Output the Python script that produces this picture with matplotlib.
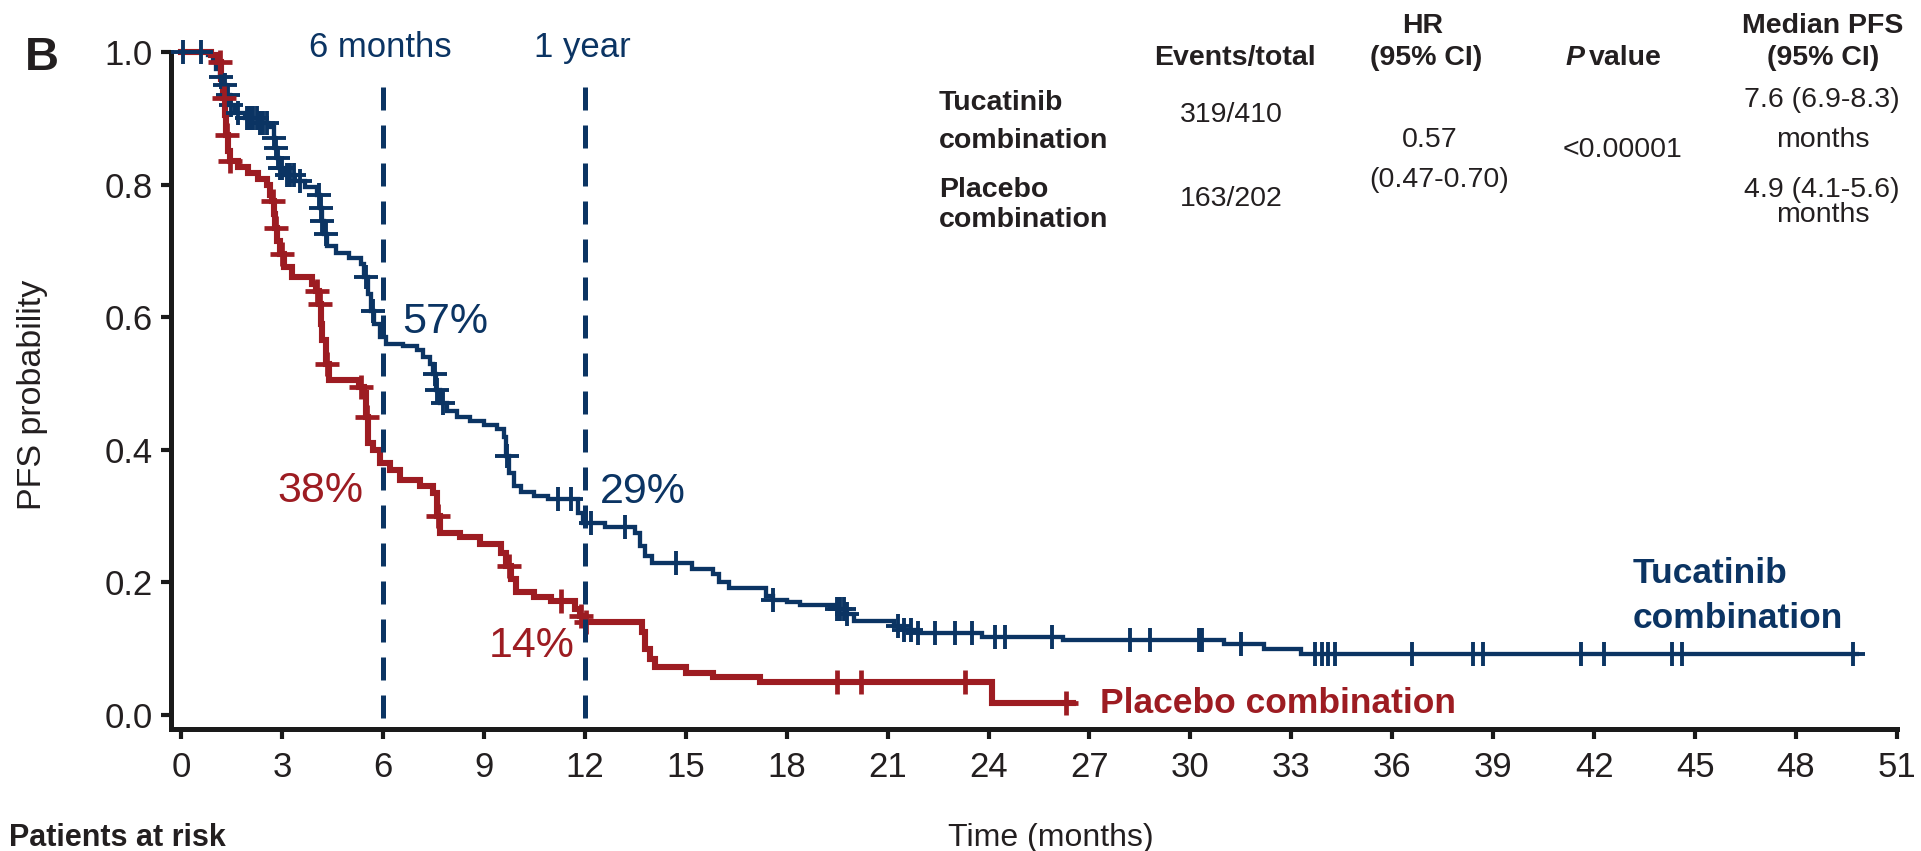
import numpy as np
import matplotlib
matplotlib.use("Agg")
import matplotlib.pyplot as plt

plt.rcParams['font.family'] = ['Liberation Sans', 'DejaVu Sans']

# ---- data -------------------------------------------------------------
month_ticks = list(range(0, 52, 3))
prob_ticks = [0.0, 0.2, 0.4, 0.6, 0.8, 1.0]

# Tucatinib combination: Kaplan-Meier step times (months) and survival after each step
tuc_time = [0, 0.8, 0.95, 1.05, 1.15, 1.25, 1.35, 1.45, 1.6, 1.9,
            2.3, 2.6, 2.75, 2.8, 2.85, 2.9, 3.1, 3.4, 3.7, 4.05,
            4.12, 4.18, 4.25, 4.35, 4.6, 5.0, 5.35, 5.45, 5.55, 5.65,
            5.75, 5.9, 6.1, 6.6, 7.0, 7.2, 7.4, 7.5, 7.58, 7.7,
            7.9, 8.2, 8.6, 9.0, 9.4, 9.6, 9.65, 9.75, 9.9, 10.1,
            10.5, 10.9, 11.8, 11.95, 12.6, 13.5, 13.65, 13.8, 14.0, 15.2,
            15.8, 16.0, 16.3, 17.4, 17.6, 18.0, 18.4, 19.5, 19.8, 20.0,
            21.2, 21.5, 21.9, 23.8, 26.2, 31.0, 32.2, 33.3]
tuc_surv = [1.0, 0.995, 0.985, 0.975, 0.962, 0.950, 0.935, 0.920, 0.908, 0.900,
            0.893, 0.887, 0.870, 0.855, 0.840, 0.825, 0.815, 0.805, 0.797, 0.785,
            0.765, 0.745, 0.725, 0.708, 0.697, 0.690, 0.680, 0.660, 0.635, 0.610,
            0.590, 0.570, 0.560, 0.557, 0.550, 0.540, 0.530, 0.515, 0.490, 0.470,
            0.458, 0.450, 0.444, 0.437, 0.432, 0.420, 0.390, 0.365, 0.345, 0.337,
            0.330, 0.326, 0.305, 0.290, 0.283, 0.275, 0.255, 0.240, 0.230, 0.220,
            0.212, 0.200, 0.192, 0.180, 0.174, 0.170, 0.166, 0.160, 0.152, 0.142,
            0.135, 0.128, 0.124, 0.118, 0.113, 0.107, 0.099, 0.092]
tuc_end = 49.8
tuc_censor = [0.06, 0.6, 1.2, 1.3, 1.4, 1.5, 1.7, 1.95, 2.05, 2.15,
              2.25, 2.35, 2.45, 2.55, 2.77, 2.82, 2.87, 2.95, 3.0, 3.15,
              3.25, 3.35, 3.55, 4.1, 4.15, 4.2, 4.3, 5.5, 5.7, 7.55,
              7.62, 7.8, 9.7, 11.2, 11.6, 12.2, 13.2, 14.7, 17.6, 19.5,
              19.6, 19.7, 19.8, 21.3, 21.5, 21.7, 21.9, 22.4, 23.0, 23.5,
              24.2, 24.5, 25.9, 28.2, 28.8, 30.25, 30.35, 31.5, 33.7, 33.9,
              34.1, 34.3, 36.6, 38.4, 38.7, 41.6, 42.3, 44.3, 44.6, 49.7]

# Placebo combination
pla_time = [0, 0.9, 1.1, 1.2, 1.25, 1.3, 1.35, 1.4, 1.45, 1.7,
            2.0, 2.3, 2.55, 2.65, 2.7, 2.75, 2.8, 2.85, 2.95, 3.05,
            3.3, 3.9, 4.0, 4.1, 4.15, 4.2, 4.3, 4.4, 5.3, 5.45,
            5.5, 5.55, 5.7, 5.9, 6.2, 6.5, 7.1, 7.5, 7.6, 7.7,
            8.3, 8.9, 9.5, 9.65, 9.8, 9.95, 10.5, 11.0, 11.7, 11.85,
            12.0, 13.7, 13.8, 13.95, 14.1, 15.0, 15.8, 17.2, 24.1]
pla_surv = [1.0, 0.995, 0.985, 0.960, 0.930, 0.905, 0.875, 0.850, 0.835, 0.827,
            0.818, 0.808, 0.800, 0.785, 0.775, 0.755, 0.735, 0.715, 0.695, 0.675,
            0.660, 0.650, 0.640, 0.620, 0.590, 0.565, 0.530, 0.505, 0.495, 0.485,
            0.450, 0.410, 0.400, 0.380, 0.370, 0.355, 0.345, 0.335, 0.300, 0.275,
            0.268, 0.258, 0.245, 0.225, 0.205, 0.185, 0.178, 0.172, 0.160, 0.150,
            0.140, 0.125, 0.100, 0.085, 0.073, 0.064, 0.057, 0.050, 0.018]
pla_end = 26.5
pla_censor = [1.15, 1.28, 1.38, 1.47, 2.72, 2.82, 3.0, 4.05, 4.12, 4.35,
              5.35, 5.52, 7.65, 9.75, 11.3, 11.9, 12.05, 19.5, 20.2, 23.3,
              26.3]

landmarks = [6, 12]
landmark_names = ["6 months", "1 year"]

table_header_top = ["HR", "Median PFS"]
table_header = ["Events/total", "(95% CI)", "value", "(95% CI)"]
arm_names = [("Tucatinib", "combination"), ("Placebo", "combination")]
events_total = ["319/410", "163/202"]
hr_text = ["0.57", "(0.47-0.70)"]
p_text = "<0.00001"
median_pfs = [("7.6 (6.9-8.3)", "months"), ("4.9 (4.1-5.6)", "months")]

# ---- style ------------------------------------------------------------
BLUE = '#0b3463'
RED = '#9d1c22'
INK = '#231f20'

W, H = 1921, 851
fig = plt.figure(figsize=(W / 100, H / 100), dpi=100)


def fx(px):
    return px / W


def fy(py):
    return 1 - py / H


ax = fig.add_axes([fx(171), fy(729), fx(1897) - fx(171), fy(52) - fy(729)])
ax.set_xlim(-0.297, 51)
ax.set_ylim(-0.0211, 1.0)
for s in ['top', 'right']:
    ax.spines[s].set_visible(False)
for s in ['left', 'bottom']:
    ax.spines[s].set_linewidth(3.6)
    ax.spines[s].set_color('#1a1a1a')
    ax.spines[s].set_capstyle('projecting')

ax.set_xticks(month_ticks)
ax.set_xticklabels([str(m) for m in month_ticks])
ax.set_yticks(prob_ticks)
ax.set_yticklabels([f"{p:.1f}" for p in prob_ticks])
ax.tick_params(axis='both', direction='out', length=7, width=3.0,
               color='#1a1a1a', labelsize=25, labelcolor=INK)
ax.tick_params(axis='x', pad=9)
ax.tick_params(axis='y', pad=6)


def step_value(times, surv, t):
    idx = np.searchsorted(np.asarray(times), np.asarray(t), side='right') - 1
    return np.asarray(surv)[idx]


def draw_arm(times, surv, end, censor, color, lw, mew):
    t = list(times) + [end]
    s = list(surv) + [surv[-1]]
    ax.step(t, s, where='post', color=color, lw=lw, clip_on=False,
            solid_joinstyle='miter', zorder=3)
    ax.plot(censor, step_value(times, surv, censor), ls='none', marker='+',
            ms=17, mew=mew, color=color, clip_on=False, zorder=4)


draw_arm(tuc_time, tuc_surv, tuc_end, tuc_censor, BLUE, 3.1, 2.8)
draw_arm(pla_time, pla_surv, pla_end, pla_censor, RED, 4.4, 3.4)

# landmark lines
for x, name in zip(landmarks, landmark_names):
    ax.plot([x, x], [0.947, -0.0211], color=BLUE, lw=3.6,
            linestyle=(0, (4.6, 3.0)), clip_on=False, zorder=5)
    ax.text(x - 0.08, 0.992, name, color=BLUE, fontsize=25,
            ha='center', va='baseline', clip_on=False)

# landmark percentages
tuc_at = step_value(tuc_time, tuc_surv, landmarks)
pla_at = step_value(pla_time, pla_surv, landmarks)
ax.text(6.57, 0.576, f"{tuc_at[0] * 100:.0f}%", color=BLUE, fontsize=31,
        ha='left', va='baseline')
ax.text(5.41, 0.321, f"{pla_at[0] * 100:.0f}%", color=RED, fontsize=31,
        ha='right', va='baseline')
ax.text(12.45, 0.320, f"{tuc_at[1] * 100:.0f}%", color=BLUE, fontsize=31,
        ha='left', va='baseline')
ax.text(11.7, 0.087, f"{pla_at[1] * 100:.0f}%", color=RED, fontsize=31,
        ha='right', va='baseline')

# curve labels
ax.text(43.15, 0.199, "Tucatinib", color=BLUE, fontsize=25.5,
        fontweight='bold', ha='left', va='baseline')
ax.text(43.15, 0.131, "combination", color=BLUE, fontsize=25.5,
        fontweight='bold', ha='left', va='baseline')
ax.text(27.3, 0.003, "Placebo combination", color=RED, fontsize=25.5,
        fontweight='bold', ha='left', va='baseline')

# axis titles and panel letter
fig.text(fx(1051), fy(838), "Time (months)", fontsize=23, color=INK,
         ha='center', va='center')
fig.text(fx(33), fy(395), "PFS probability", fontsize=24.5, color=INK,
         rotation=90, ha='center', va='center')
fig.text(fx(25), fy(70), "B", fontsize=34, fontweight='bold', color=INK,
         ha='left', va='baseline')
fig.text(fx(226), fy(846), "Patients at risk", fontsize=22, fontweight='bold',
         color=INK, ha='right', va='baseline')

# summary table
TS = 20.5
fig.text(fx(1423), fy(33), table_header_top[0], fontsize=TS, fontweight='bold',
         color=INK, ha='center', va='baseline')
fig.text(fx(1823), fy(33), table_header_top[1], fontsize=TS, fontweight='bold',
         color=INK, ha='center', va='baseline')
fig.text(fx(1235), fy(65), table_header[0], fontsize=TS, fontweight='bold',
         color=INK, ha='center', va='baseline')
fig.text(fx(1426), fy(65), table_header[1], fontsize=TS, fontweight='bold',
         color=INK, ha='center', va='baseline')
fig.text(fx(1565), fy(65), "P", fontsize=TS, fontweight='bold', style='italic',
         color=INK, ha='left', va='baseline')
fig.text(fx(1589), fy(65), table_header[2], fontsize=TS, fontweight='bold',
         color=INK, ha='left', va='baseline')
fig.text(fx(1823), fy(65), table_header[3], fontsize=TS, fontweight='bold',
         color=INK, ha='center', va='baseline')

for (l1, l2), yb in zip(arm_names, [(110, 148), (197, 227)]):
    fig.text(fx(939), fy(yb[0]), l1, fontsize=TS, fontweight='bold',
             color=INK, ha='left', va='baseline')
    fig.text(fx(939), fy(yb[1]), l2, fontsize=TS, fontweight='bold',
             color=INK, ha='left', va='baseline')

for txt, yb in zip(events_total, [122, 206]):
    fig.text(fx(1231), fy(yb), txt, fontsize=TS, color=INK,
             ha='center', va='baseline')
fig.text(fx(1430), fy(147), hr_text[0], fontsize=TS, color=INK,
         ha='center', va='baseline')
fig.text(fx(1439), fy(187), hr_text[1], fontsize=TS, color=INK,
         ha='center', va='baseline')
fig.text(fx(1622), fy(157), p_text, fontsize=TS, color=INK,
         ha='center', va='baseline')
for (l1, l2), yb in zip(median_pfs, [(107, 147), (197, 222)]):
    fig.text(fx(1822), fy(yb[0]), l1, fontsize=TS, color=INK,
             ha='center', va='baseline')
    fig.text(fx(1823), fy(yb[1]), l2, fontsize=TS, color=INK,
             ha='center', va='baseline')

fig.savefig("out.png", dpi=100)
